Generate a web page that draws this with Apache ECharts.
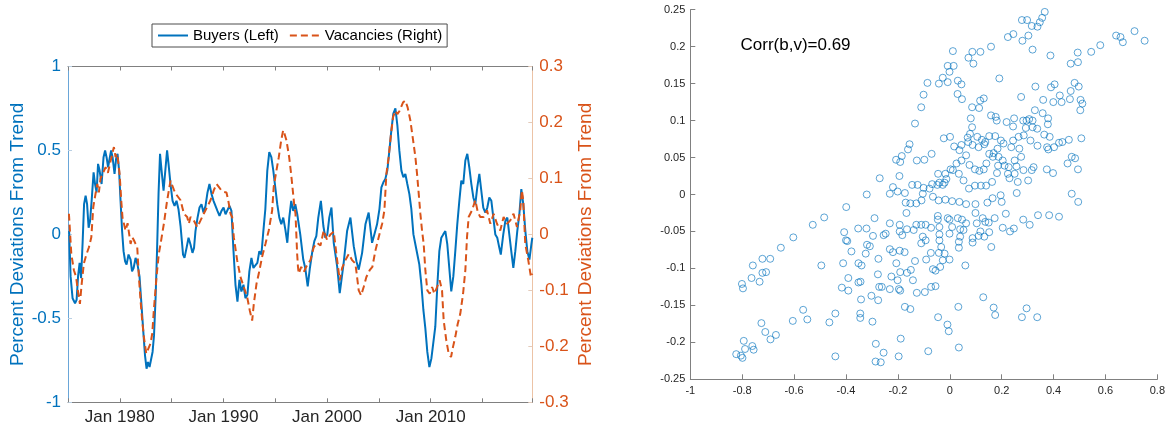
<!DOCTYPE html>
<html><head><meta charset="utf-8">
<script src="https://cdn.jsdelivr.net/npm/echarts@6/dist/echarts.min.js"></script>
<style>html,body{margin:0;padding:0;background:#fff}#c{width:1168px;height:429px}</style>
</head><body><div id="c"></div>
<script>
// ---- data ----
const buyers = [[1975.11,0.02],[1975.25,-0.25],[1975.44,-0.38],[1975.68,-0.41],[1975.83,-0.39],[1975.97,-0.25],[1976.12,-0.17],[1976.26,-0.26],[1976.41,-0.05],[1976.55,0.18],[1976.70,0.23],[1976.84,0.18],[1976.99,0.04],[1977.13,0.08],[1977.28,0.2],[1977.47,0.37],[1977.61,0.3],[1977.76,0.25],[1977.90,0.42],[1978.05,0.38],[1978.24,0.3],[1978.43,0.46],[1978.58,0.5],[1978.72,0.46],[1978.87,0.4],[1979.01,0.45],[1979.16,0.5],[1979.30,0.46],[1979.49,0.36],[1979.64,0.45],[1979.78,0.48],[1979.93,0.38],[1980.07,0.2],[1980.22,0.02],[1980.36,-0.1],[1980.51,-0.16],[1980.65,-0.18],[1980.84,-0.12],[1981.04,-0.15],[1981.18,-0.22],[1981.33,-0.2],[1981.52,-0.14],[1981.71,-0.18],[1981.90,-0.25],[1982.09,-0.42],[1982.29,-0.6],[1982.43,-0.72],[1982.58,-0.8],[1982.72,-0.76],[1982.87,-0.79],[1983.01,-0.8],[1983.16,-0.7],[1983.30,-0.6],[1983.45,-0.38],[1983.59,-0.1],[1983.74,0.25],[1983.88,0.48],[1984.03,0.38],[1984.22,0.26],[1984.36,0.25],[1984.56,0.5],[1984.70,0.42],[1984.89,0.3],[1985.09,0.2],[1985.28,0.17],[1985.47,0.2],[1985.66,0.15],[1985.86,0.05],[1986.10,-0.12],[1986.24,-0.14],[1986.44,-0.08],[1986.63,-0.02],[1986.82,-0.06],[1987.01,-0.11],[1987.16,-0.08],[1987.30,0.02],[1987.50,0.1],[1987.69,0.16],[1987.88,0.18],[1988.07,0.13],[1988.27,0.17],[1988.46,0.25],[1988.65,0.3],[1988.85,0.24],[1989.04,0.2],[1989.23,0.2],[1989.42,0.14],[1989.62,0.11],[1989.81,0.14],[1990.01,0.16],[1990.20,0.12],[1990.39,0.11],[1990.58,0.17],[1990.77,0.14],[1990.97,-0.1],[1991.16,-0.3],[1991.35,-0.4],[1991.54,-0.27],[1991.73,-0.34],[1991.93,-0.3],[1992.12,-0.38],[1992.31,-0.36],[1992.50,-0.22],[1992.70,-0.14],[1992.89,-0.2],[1993.08,-0.21],[1993.27,-0.17],[1993.46,-0.1],[1993.66,-0.12],[1993.85,0.02],[1994.04,0.15],[1994.23,0.38],[1994.42,0.49],[1994.62,0.46],[1994.81,0.38],[1995.00,0.28],[1995.19,0.18],[1995.39,0.1],[1995.58,0.06],[1995.77,0.1],[1995.97,0.03],[1996.16,-0.05],[1996.35,0.1],[1996.54,0.2],[1996.73,0.14],[1996.93,0.18],[1997.12,0.12],[1997.41,0.0],[1997.70,-0.15],[1997.89,-0.2],[1998.13,-0.31],[1998.34,-0.2],[1998.58,-0.1],[1998.77,-0.04],[1998.96,-0.01],[1999.15,0.1],[1999.40,0.2],[1999.64,0.05],[1999.83,-0.02],[2000.02,0.0],[2000.21,0.1],[2000.42,0.16],[2000.64,-0.05],[2000.97,-0.19],[2001.22,-0.35],[2001.43,-0.25],[2001.60,-0.17],[2001.93,0.02],[2002.25,0.1],[2002.57,-0.07],[2002.83,-0.16],[2003.05,-0.21],[2003.38,-0.11],[2003.70,0.06],[2004.01,0.13],[2004.34,-0.05],[2004.56,0.0],[2004.82,0.06],[2005.05,0.15],[2005.24,0.28],[2005.43,0.31],[2005.62,0.33],[2005.81,0.38],[2006.01,0.5],[2006.20,0.62],[2006.39,0.72],[2006.59,0.75],[2006.78,0.65],[2006.97,0.5],[2007.17,0.38],[2007.36,0.34],[2007.55,0.36],[2007.74,0.3],[2007.94,0.24],[2008.13,0.15],[2008.33,0.0],[2008.52,-0.06],[2008.71,-0.12],[2008.90,-0.18],[2009.10,-0.3],[2009.29,-0.45],[2009.48,-0.56],[2009.67,-0.7],[2009.87,-0.79],[2010.06,-0.74],[2010.25,-0.73],[2010.44,-0.55],[2010.64,-0.3],[2010.83,-0.1],[2011.02,-0.02],[2011.21,0.0],[2011.41,0.02],[2011.60,-0.06],[2011.79,-0.2],[2011.98,-0.34],[2012.18,-0.25],[2012.37,-0.1],[2012.56,0.06],[2012.76,0.2],[2012.95,0.32],[2013.14,0.3],[2013.34,0.44],[2013.53,0.48],[2013.72,0.4],[2013.92,0.3],[2014.11,0.22],[2014.30,0.18],[2014.49,0.28],[2014.69,0.36],[2014.88,0.26],[2015.07,0.16],[2015.27,0.13],[2015.46,0.16],[2015.65,0.22],[2015.85,0.2],[2016.04,0.1],[2016.23,0.0],[2016.42,-0.02],[2016.62,-0.08],[2016.76,-0.12],[2017.00,0.0],[2017.20,0.08],[2017.39,0.1],[2017.58,0.0],[2017.77,-0.1],[2017.97,-0.2],[2018.16,-0.1],[2018.35,0.02],[2018.55,0.12],[2018.74,0.27],[2018.93,0.18],[2019.13,0.02],[2019.32,-0.1],[2019.52,-0.15],[2019.71,-0.06],[2019.80,-0.02]];

const vacancies = [[1975.09,0.037],[1975.32,-0.035],[1975.57,-0.064],[1975.78,-0.076],[1975.95,-0.1],[1976.15,-0.124],[1976.31,-0.09],[1976.53,-0.052],[1976.79,-0.035],[1977.02,-0.023],[1977.25,-0.005],[1977.44,0.049],[1977.66,0.073],[1977.83,0.09],[1977.98,0.075],[1978.14,0.1],[1978.34,0.108],[1978.63,0.12],[1978.85,0.11],[1979.04,0.11],[1979.27,0.144],[1979.43,0.156],[1979.59,0.138],[1979.75,0.144],[1979.98,0.108],[1980.14,0.06],[1980.26,0.03],[1980.55,0.007],[1980.75,0.02],[1980.87,0.019],[1981.04,-0.017],[1981.20,-0.005],[1981.35,-0.01],[1981.52,-0.017],[1981.68,-0.023],[1981.84,-0.076],[1982.00,-0.118],[1982.16,-0.154],[1982.32,-0.183],[1982.55,-0.213],[1982.74,-0.21],[1982.96,-0.195],[1983.13,-0.177],[1983.28,-0.136],[1983.54,-0.076],[1983.76,-0.035],[1983.93,-0.017],[1984.25,0.019],[1984.56,0.06],[1984.89,0.096],[1985.21,0.08],[1985.38,0.073],[1985.86,0.061],[1986.18,0.037],[1986.50,0.031],[1986.66,0.019],[1986.82,0.031],[1987.14,0.025],[1987.47,0.013],[1987.79,0.025],[1988.10,0.037],[1988.43,0.049],[1988.75,0.061],[1989.07,0.079],[1989.33,0.09],[1989.55,0.085],[1989.78,0.079],[1990.03,0.076],[1990.29,0.075],[1990.46,0.061],[1990.68,0.037],[1990.84,0.031],[1991.00,-0.005],[1991.32,-0.046],[1991.64,-0.076],[1991.96,-0.094],[1992.29,-0.112],[1992.54,-0.136],[1992.77,-0.154],[1992.93,-0.124],[1993.19,-0.088],[1993.41,-0.07],[1993.73,-0.04],[1994.05,-0.017],[1994.37,0.007],[1994.70,0.043],[1994.85,0.085],[1995.11,0.114],[1995.34,0.138],[1995.57,0.168],[1995.76,0.186],[1995.89,0.18],[1996.08,0.168],[1996.34,0.138],[1996.53,0.108],[1996.72,0.073],[1996.85,0.049],[1996.95,0.037],[1997.11,-0.035],[1997.19,-0.058],[1997.26,-0.07],[1997.50,-0.058],[1997.75,-0.067],[1998.07,-0.055],[1998.39,-0.046],[1998.71,-0.023],[1999.04,-0.015],[1999.36,-0.02],[1999.67,0.007],[2000.00,-0.01],[2000.32,0.0],[2000.64,0.005],[2000.97,-0.046],[2001.22,-0.082],[2001.45,-0.06],[2001.77,-0.046],[2002.09,-0.035],[2002.41,-0.046],[2002.73,-0.052],[2003.05,-0.1],[2003.28,-0.109],[2003.53,-0.094],[2003.79,-0.076],[2004.11,-0.064],[2004.37,-0.058],[2004.66,-0.029],[2004.98,-0.005],[2005.31,0.019],[2005.53,0.043],[2005.72,0.108],[2005.94,0.138],[2006.17,0.18],[2006.37,0.21],[2006.59,0.221],[2006.78,0.215],[2006.97,0.22],[2007.33,0.236],[2007.55,0.239],[2007.77,0.227],[2008.03,0.204],[2008.30,0.168],[2008.52,0.138],[2008.68,0.108],[2008.84,0.073],[2009.00,0.037],[2009.16,0.007],[2009.32,-0.017],[2009.48,-0.064],[2009.67,-0.1],[2009.90,-0.106],[2010.13,-0.094],[2010.35,-0.106],[2010.61,-0.094],[2010.86,-0.082],[2011.09,-0.1],[2011.25,-0.154],[2011.50,-0.189],[2011.73,-0.213],[2011.96,-0.219],[2012.15,-0.201],[2012.37,-0.183],[2012.60,-0.16],[2012.85,-0.142],[2013.12,-0.106],[2013.34,-0.064],[2013.50,-0.005],[2013.66,0.031],[2013.98,0.043],[2014.30,0.061],[2014.54,0.04],[2014.78,0.031],[2015.10,0.031],[2015.43,0.043],[2015.75,0.019],[2016.07,0.037],[2016.39,0.019],[2016.71,0.007],[2017.03,0.031],[2017.36,0.019],[2017.68,0.025],[2017.99,0.037],[2018.32,0.013],[2018.64,0.043],[2018.79,0.079],[2018.93,0.061],[2019.12,-0.017],[2019.41,-0.046],[2019.67,-0.076],[2019.80,-0.07]];

// scatter: [buyers deviation, vacancies deviation]
const scatterPoints = [[0.366,0.247],[0.278,0.236],[0.298,0.236],[0.316,0.228],[0.338,0.227],[0.347,0.233],[0.356,0.239],[0.224,0.213],[0.245,0.217],[0.280,0.208],[0.303,0.215],[0.319,0.196],[0.388,0.188],[0.159,0.200],[0.118,0.193],[0.087,0.193],[0.072,0.185],[0.091,0.177],[0.012,0.194],[-0.008,0.174],[0.015,0.174],[-0.001,0.166],[-0.027,0.158],[-0.042,0.150],[-0.008,0.152],[0.031,0.154],[0.045,0.149],[-0.086,0.151],[-0.101,0.135],[-0.110,0.118],[-0.134,0.096],[0.030,0.136],[0.047,0.129],[0.117,0.127],[0.131,0.130],[0.086,0.118],[0.113,0.117],[0.191,0.157],[0.275,0.132],[0.330,0.146],[0.360,0.128],[0.390,0.145],[0.404,0.149],[0.424,0.134],[0.431,0.125],[0.399,0.125],[0.463,0.129],[0.466,0.140],[0.481,0.151],[0.497,0.146],[0.504,0.128],[0.511,0.123],[0.503,0.114],[0.328,0.114],[0.358,0.110],[0.379,0.103],[0.378,0.095],[0.159,0.107],[0.177,0.105],[0.181,0.100],[0.466,0.177],[0.494,0.179],[0.493,0.192],[0.545,0.193],[0.580,0.202],[0.641,0.215],[0.658,0.213],[0.667,0.206],[0.712,0.221],[0.751,0.208],[0.219,0.098],[0.248,0.103],[0.244,0.092],[0.283,0.100],[0.296,0.100],[0.306,0.102],[0.319,0.100],[0.293,0.090],[0.319,0.091],[0.337,0.089],[0.364,0.081],[0.385,0.078],[0.421,0.070],[0.434,0.071],[0.459,0.074],[0.507,0.076],[0.470,0.051],[0.483,0.049],[0.454,0.042],[0.494,0.034],[0.470,0.001],[0.495,-0.010],[0.402,0.064],[0.380,0.061],[0.375,0.064],[0.338,0.066],[0.311,0.073],[0.285,0.080],[0.265,0.078],[0.244,0.073],[0.237,0.064],[0.268,0.062],[0.275,0.051],[0.250,0.046],[0.257,0.038],[0.284,0.033],[0.316,0.033],[0.302,0.019],[0.323,0.037],[0.374,0.034],[0.398,0.029],[0.081,0.103],[0.086,0.091],[0.078,0.082],[0.069,0.077],[0.106,0.078],[0.124,0.074],[0.137,0.071],[0.152,0.079],[0.175,0.079],[0.197,0.073],[0.207,0.069],[0.184,0.062],[0.169,0.056],[0.152,0.055],[0.133,0.068],[0.111,0.064],[0.088,0.067],[0.071,0.071],[0.045,0.067],[0.037,0.060],[0.017,0.065],[0.001,0.078],[-0.023,0.076],[-0.070,0.055],[-0.098,0.047],[-0.127,0.046],[-0.155,0.068],[-0.161,0.061],[-0.185,0.052],[-0.191,0.044],[-0.207,0.047],[-0.194,0.025],[-0.219,0.010],[-0.231,0.001],[-0.201,0.004],[-0.173,0.002],[-0.145,0.013],[-0.124,0.013],[-0.101,0.009],[-0.078,0.008],[-0.068,0.014],[-0.104,0.001],[-0.109,-0.008],[-0.129,-0.012],[-0.152,-0.012],[-0.170,-0.011],[-0.045,0.028],[-0.040,0.016],[-0.017,0.028],[-0.020,0.016],[0.003,0.034],[0.026,0.042],[0.045,0.046],[0.063,0.053],[0.076,0.040],[0.097,0.034],[0.114,0.032],[0.131,0.034],[0.141,0.042],[0.166,0.051],[0.188,0.051],[0.186,0.039],[0.211,0.039],[0.182,0.029],[0.163,0.017],[0.140,0.012],[0.120,0.012],[0.097,0.012],[0.074,0.008],[0.053,0.019],[0.035,0.028],[0.012,0.033],[-0.013,0.021],[-0.027,0.013],[-0.048,0.013],[-0.065,-0.003],[-0.043,-0.008],[-0.017,-0.007],[0.009,-0.009],[0.037,-0.010],[0.063,-0.013],[0.099,-0.013],[0.145,-0.011],[0.165,-0.005],[0.196,-0.001],[0.200,-0.010],[0.224,0.028],[0.230,0.022],[0.250,0.028],[0.262,0.017],[0.258,0.002],[0.227,0.037],[0.204,0.046],
[-0.231,-0.039],[-0.193,-0.041],[-0.193,-0.050],[-0.183,-0.055],[-0.167,-0.025],[-0.165,-0.047],[-0.139,-0.048],[-0.129,-0.041],[-0.110,-0.041],[-0.093,-0.041],[-0.072,-0.045],[-0.046,-0.029],[-0.046,-0.034],[-0.040,-0.044],[-0.040,-0.054],[-0.008,-0.032],[-0.001,-0.034],[0.009,-0.044],[-0.001,-0.053],[0.031,-0.032],[0.047,-0.034],[0.040,-0.047],[0.053,-0.048],[0.063,-0.039],[0.099,-0.025],[0.104,-0.039],[0.118,-0.050],[0.127,-0.032],[0.137,-0.037],[0.150,-0.038],[0.173,-0.032],[0.152,-0.051],[0.204,-0.045],[0.216,-0.026],[0.232,-0.050],[0.247,-0.046],[0.283,-0.034],[0.308,-0.041],[0.340,-0.028],[0.383,-0.028],[0.421,-0.030],[-0.104,-0.057],[-0.093,-0.062],[-0.110,-0.066],[-0.040,-0.062],[-0.033,-0.071],[-0.073,-0.079],[-0.042,-0.079],[-0.020,-0.080],[-0.001,-0.088],[0.035,-0.064],[0.035,-0.072],[0.040,-0.057],[0.088,-0.059],[0.088,-0.065],[0.111,-0.056],[0.133,-0.057],[0.160,-0.071],[-0.231,-0.074],[-0.219,-0.078],[-0.193,-0.076],[-0.174,-0.078],[-0.206,-0.093],[-0.191,-0.105],[-0.165,-0.106],[-0.150,-0.102],[-0.142,-0.116],[-0.201,-0.116],[-0.225,-0.111],[-0.134,-0.090],[-0.091,-0.088],[-0.065,-0.101],[-0.055,-0.103],[-0.037,-0.098],[-0.027,-0.089],[0.060,-0.096],[-0.231,-0.128],[-0.196,-0.128],[-0.191,-0.130],[-0.127,-0.133],[-0.096,-0.132],[-0.072,-0.125],[-0.055,-0.124],[-0.173,-0.152],[-0.152,-0.155],[-0.045,-0.166],[-0.009,-0.176],[-0.004,-0.185],[0.033,-0.152],[0.129,-0.139],[0.169,-0.153],[0.175,-0.163],[0.278,-0.166],[0.296,-0.154],[0.337,-0.166],[-0.189,-0.195],[-0.197,-0.219],[-0.083,-0.212],[0.035,-0.207],
[-0.484,-0.031],[-0.528,-0.041],[-0.603,-0.058],[-0.651,-0.072],[-0.692,-0.087],[-0.722,-0.087],[-0.759,-0.096],[-0.733,-0.118],[-0.708,-0.105],[-0.722,-0.106],[-0.764,-0.113],[-0.801,-0.121],[-0.797,-0.127],[-0.495,-0.096],[-0.407,-0.051],[-0.400,-0.062],[-0.395,-0.063],[-0.379,-0.077],[-0.411,-0.093],[-0.391,-0.113],[-0.391,-0.130],[-0.416,-0.126],[-0.352,-0.093],[-0.340,-0.096],[-0.344,-0.118],[-0.352,-0.119],[-0.342,-0.142],[-0.345,-0.161],[-0.345,-0.167],[-0.298,-0.172],[-0.302,-0.137],[-0.276,-0.143],[-0.324,-0.080],[-0.319,-0.068],[-0.308,-0.070],[-0.290,-0.032],[-0.296,-0.056],[-0.275,-0.087],[-0.277,-0.108],[-0.272,-0.125],[-0.262,-0.125],[-0.255,-0.055],[-0.247,-0.053],[-0.285,-0.202],[-0.255,-0.214],[-0.286,-0.226],[-0.266,-0.227],[-0.441,-0.161],[-0.464,-0.173],[-0.549,-0.169],[-0.565,-0.156],[-0.605,-0.171],[-0.670,-0.190],[-0.691,-0.196],[-0.711,-0.186],[-0.726,-0.174],[-0.794,-0.198],[-0.789,-0.209],[-0.799,-0.221],[-0.823,-0.216],[-0.756,-0.210],[-0.761,-0.205],[-0.805,-0.218],[-0.441,-0.219],
[-0.270,0.022],[-0.320,0.000],[-0.399,-0.017],[-0.353,-0.046],[-0.321,-0.046]];

const dateLabelYears = [1980, 1990, 2000, 2010];
const seriesNames = ['Buyers (Left)', 'Vacancies (Right)'];
const axisTitle = 'Percent Deviations From Trend';
const corrText = 'Corr(b,v)=0.69';

// ---- styling ----
const FONT = '"Liberation Sans", Arial, Helvetica, sans-serif';
const BLUE = '#0072BD', ORANGE = '#D95319', TXT = '#262626', AX = '#808080';

const chart = echarts.init(document.getElementById('c'), null, {renderer: 'canvas'});
const noSplit = {show: false};
const option = {
  animation: false,
  textStyle: {fontFamily: FONT},
  title: {text: corrText, left: 740.5, top: 37, padding: 0,
    textStyle: {fontFamily: FONT, fontSize: 17, fontWeight: 'normal', color: '#000'}},
  legend: {
    data: seriesNames, left: 152, top: 24, orient: 'horizontal',
    itemWidth: 30, itemHeight: 14, itemGap: 10, padding: [4, 5, 4, 5],
    borderColor: '#4d4d4d', borderWidth: 1, backgroundColor: '#fff', borderRadius: 0,
    itemStyle: {opacity: 0, borderWidth: 0},
    textStyle: {fontFamily: FONT, fontSize: 15, color: '#000', lineHeight: 15}
  },
  grid: [
    {left: 68, right: 635.7, top: 66.5, bottom: 26.7},
    {left: 690.3, right: 8.7, top: 9.7, bottom: 49.7}
  ],
  xAxis: [
    {gridIndex: 0, type: 'value', min: 1975, max: 2019.8, interval: 5, splitLine: noSplit,
     axisLine: {onZero: false, lineStyle: {color: AX, width: 1}},
     axisTick: {inside: true, length: 4, lineStyle: {color: AX}},
     axisLabel: {color: TXT, fontSize: 17, margin: 7, fontFamily: FONT,
       formatter: v => {const r = Math.round(v); return (Math.abs(v - r) < 1e-6 && dateLabelYears.includes(r)) ? 'Jan ' + r : '';}}},
    {gridIndex: 0, type: 'value', position: 'top', min: 1975, max: 2019.8, interval: 5, splitLine: noSplit,
     axisLine: {onZero: false, lineStyle: {color: AX, width: 1}},
     axisTick: {inside: true, length: 4, lineStyle: {color: AX}},
     axisLabel: {show: false}},
    {gridIndex: 1, type: 'value', min: -1, max: 0.8, interval: 0.2, splitLine: noSplit,
     axisLine: {onZero: false, lineStyle: {color: AX, width: 1}},
     axisTick: {inside: true, length: 5, lineStyle: {color: AX}},
     axisLabel: {color: TXT, fontSize: 11, margin: 6, fontFamily: FONT}}
  ],
  yAxis: [
    {gridIndex: 0, type: 'value', position: 'left', min: -1, max: 1, interval: 0.5, splitLine: noSplit,
     axisLine: {show: true, onZero: false, lineStyle: {color: '#6aa6d8', width: 1}},
     axisTick: {show: true, inside: true, length: 4, lineStyle: {color: '#b9cfe3'}},
     axisLabel: {color: BLUE, fontSize: 17, margin: 7, fontFamily: FONT},
     name: axisTitle, nameLocation: 'middle', nameRotate: 90, nameGap: 41,
     nameTextStyle: {color: BLUE, fontSize: 19, fontFamily: FONT}},
    {gridIndex: 0, type: 'value', position: 'right', min: -0.3, max: 0.3, interval: 0.1, splitLine: noSplit,
     axisLine: {show: true, onZero: false, lineStyle: {color: '#ecc3a6', width: 1}},
     axisTick: {show: true, inside: true, length: 4, lineStyle: {color: '#e3cbbb'}},
     axisLabel: {color: ORANGE, fontSize: 17, margin: 7, fontFamily: FONT,
       formatter: v => String(+v.toFixed(1))},
     name: axisTitle, nameLocation: 'middle', nameRotate: 90, nameGap: 44,
     nameTextStyle: {color: ORANGE, fontSize: 19, fontFamily: FONT}},
    {gridIndex: 1, type: 'value', min: -0.25, max: 0.25, interval: 0.05, splitLine: noSplit,
     axisLine: {show: true, onZero: false, lineStyle: {color: AX, width: 1}},
     axisTick: {show: true, inside: true, length: 5, lineStyle: {color: AX}},
     axisLabel: {color: TXT, fontSize: 11, margin: 5, fontFamily: FONT}}
  ],
  series: [
    {name: seriesNames[0], type: 'line', xAxisIndex: 0, yAxisIndex: 0, data: buyers,
     symbol: 'none', showSymbol: false, smooth: false, z: 2,
     lineStyle: {color: BLUE, width: 2}, itemStyle: {color: BLUE}},
    {name: seriesNames[1], type: 'line', xAxisIndex: 0, yAxisIndex: 1, data: vacancies,
     symbol: 'none', showSymbol: false, smooth: false, z: 3,
     lineStyle: {color: ORANGE, width: 2, type: [7, 4]}, itemStyle: {color: ORANGE}},
    {name: 'scatter', type: 'scatter', xAxisIndex: 2, yAxisIndex: 2, data: scatterPoints,
     symbol: 'circle', symbolSize: 7,
     itemStyle: {color: 'rgba(0,0,0,0)', borderColor: BLUE, borderWidth: 0.8}}
  ]
};
chart.setOption(option);
</script></body></html>
